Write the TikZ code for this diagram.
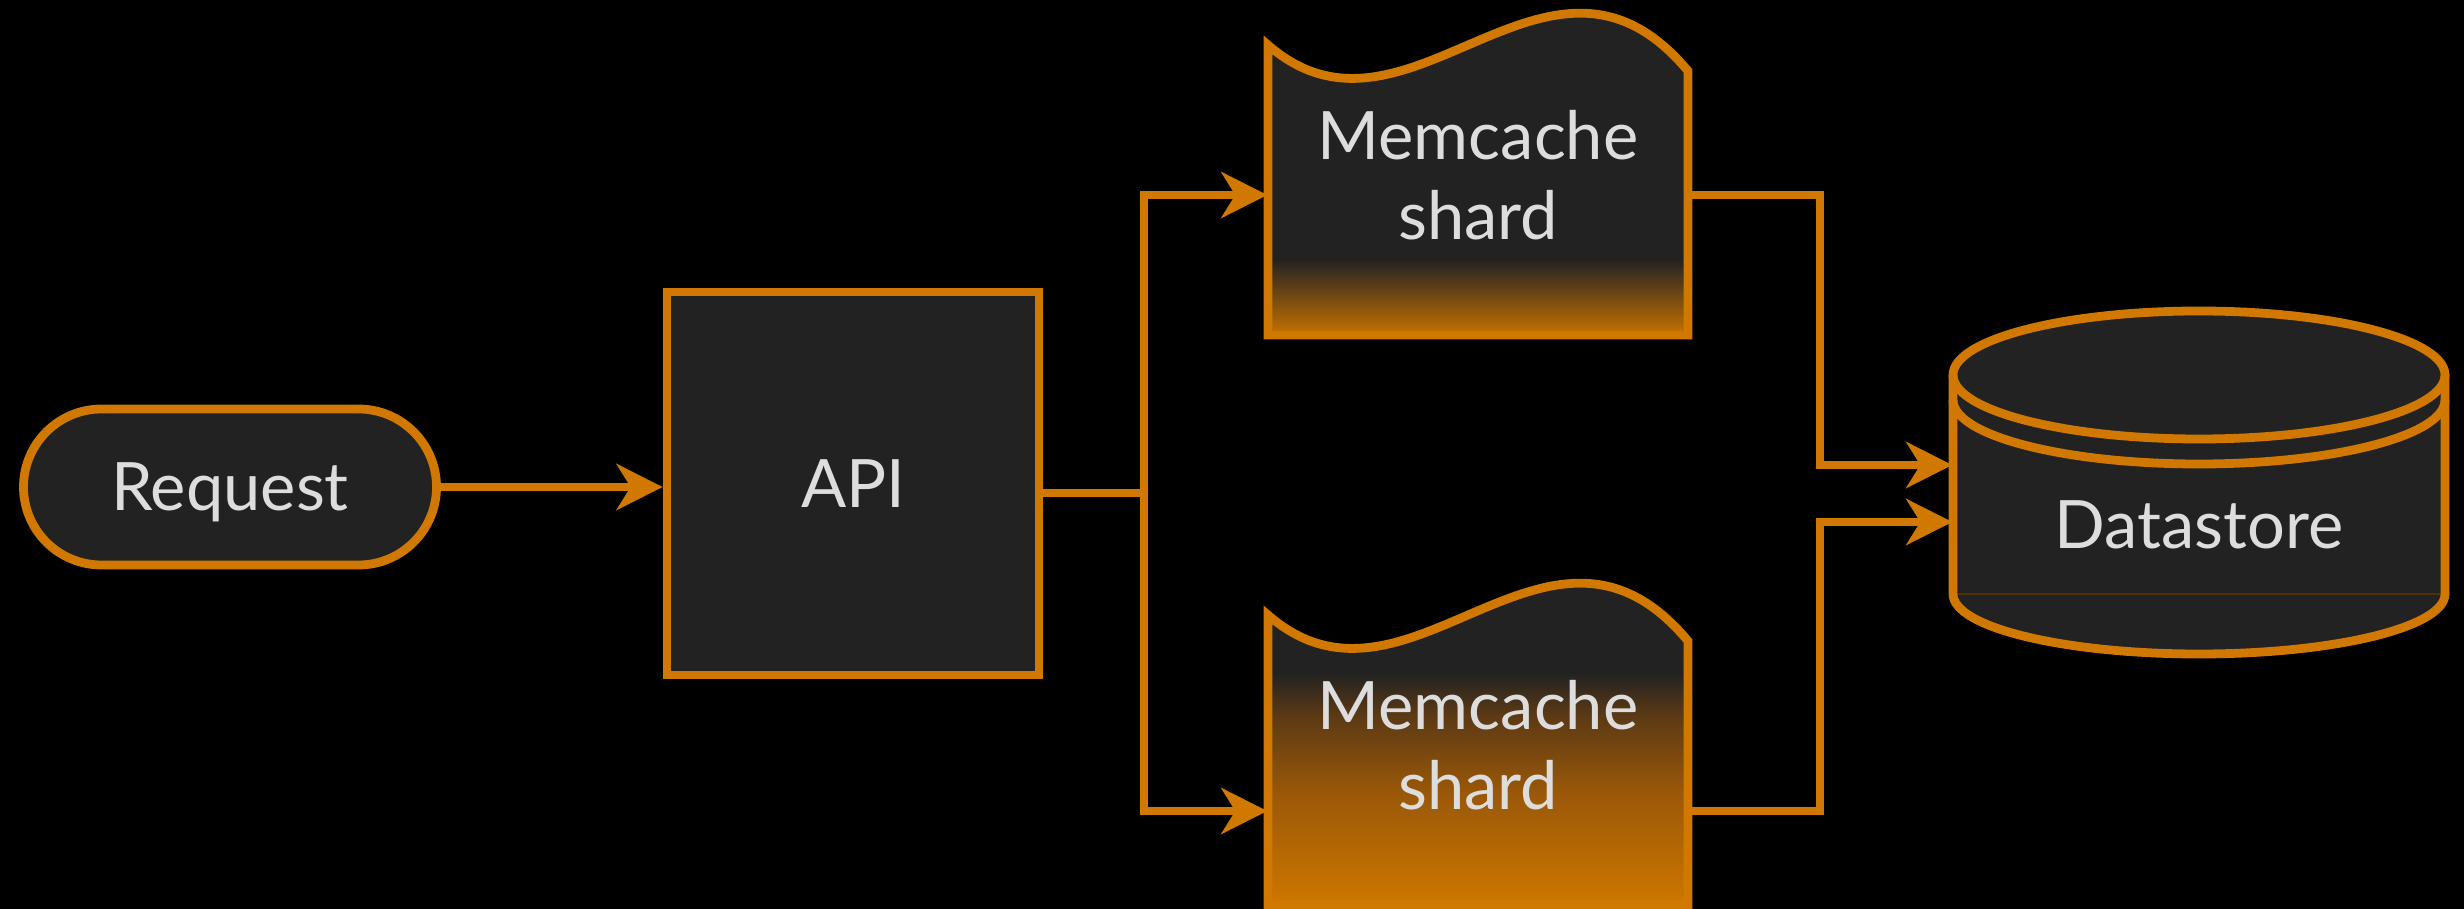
\documentclass[tikz,border=0pt]{standalone}
\usepackage{fontspec}
\setmainfont{Lato}
\usepackage{xcolor}
\usetikzlibrary{shapes.misc,arrows.meta,positioning}

\definecolor{amber}{RGB}{208,120,0}
\definecolor{panel}{RGB}{34,34,34}
\definecolor{label}{RGB}{221,221,221}
\definecolor{rustA}{RGB}{92,58,20}
\definecolor{rustB}{RGB}{154,88,8}

\tikzset{
  outline/.style={draw=amber, line width=2.5pt},
  txt/.style={text=label, font=\fontsize{19pt}{22.7pt}\selectfont, align=center, text depth=0pt, inner sep=0pt},
  pill/.style={outline, fill=panel, rounded rectangle, txt, minimum width=4.13cm, minimum height=1.56cm},
  box/.style={outline, fill=panel, rectangle, txt, minimum width=3.72cm, minimum height=3.83cm},
  shardbody/.style={rectangle, inner sep=0pt, minimum width=4.20cm, minimum height=2.90cm},
  link/.style={amber, line width=2.5pt},
  flow/.style={link, -{Stealth[length=0.46cm,width=0.46cm,inset=0.14cm]}},
}

% outline of a memcache shard (wavy top)
\newcommand{\shardshape}{(12.68,5.74) -- (12.68,8.64) .. controls (14.08,7.42) and (15.48,10.06) .. (16.88,8.38) -- (16.88,5.74) -- cycle}

\begin{document}
\begin{tikzpicture}
% Background
\fill[black] (0,0) rectangle (24.64,9.09);
\useasboundingbox (0,0) rectangle (24.64,9.09);

% Request and API
\node[pill] (req) at (2.30,4.22) {Request};
\node[box] (api) at (8.53,4.255) {API};

% Upper shard
\fill[panel] \shardshape;
\begin{scope}
  \clip \shardshape;
  \shade[top color=panel, bottom color=amber!95!black] (12.6,6.50) rectangle (17,5.74);
\end{scope}
\draw[outline] \shardshape;
\node[shardbody] (shardA) at (14.78,7.19) {};
\node[txt] (shardAtext) at (14.78,7.34) {Memcache\\shard};

% Lower shard
\begin{scope}[yshift=-5.70cm]
  \fill[panel] \shardshape;
  \begin{scope}
    \clip \shardshape;
    \shade[top color=panel, bottom color=rustA] (12.6,8.06) rectangle (17,7.63);
    \shade[top color=rustA, bottom color=rustB] (12.6,7.63) rectangle (17,6.86);
    \shade[top color=rustB, bottom color=amber] (12.6,6.86) rectangle (17,5.70);
  \end{scope}
  \draw[outline] \shardshape;
\end{scope}
\node[shardbody] (shardB) at (14.78,1.49) {};
\node[txt] (shardBtext) at (14.78,1.64) {Memcache\\shard};

% Datastore cylinder
\fill[panel] (19.53,5.34) -- (19.53,3.15)
  arc[start angle=180, end angle=360, x radius=2.46cm, y radius=0.60cm]
  -- (24.45,5.34)
  arc[start angle=0, end angle=180, x radius=2.46cm, y radius=0.64cm] -- cycle;
\draw[amber!40!black, line width=0.6pt] (19.53,3.15) -- (24.45,3.15);
\draw[outline] (19.53,5.34) -- (19.53,3.15)
  arc[start angle=180, end angle=360, x radius=2.46cm, y radius=0.60cm]
  -- (24.45,5.34);
\draw[outline] (19.53,5.09) arc[start angle=180, end angle=360, x radius=2.46cm, y radius=0.64cm];
\draw[outline] (21.99,5.34) ellipse[x radius=2.46cm, y radius=0.64cm];
\node[txt, minimum width=4.92cm] (store) at (21.99,3.84) {Datastore};

% Connectors
\coordinate (fork) at (11.44,4.16);
\coordinate (merge) at (18.20,4.16);
\coordinate (inA) at ([yshift=0.60cm]store.west);
\coordinate (inB) at ([yshift=0.03cm]store.west);
\draw[flow] (req.east) -- (req.east -| api.west);
\draw[link] (api.east |- fork) -- (fork);
\draw[flow] (fork) |- ([yshift=-0.05cm]shardA.west);
\draw[flow] (fork) |- ([yshift=-0.51cm]shardB.west);
\draw[flow] ([yshift=-0.05cm]shardA.east) -| (merge |- inA) -- (inA);
\draw[flow] ([yshift=-0.51cm]shardB.east) -| (merge |- inB) -- (inB);

\end{tikzpicture}
\end{document}
